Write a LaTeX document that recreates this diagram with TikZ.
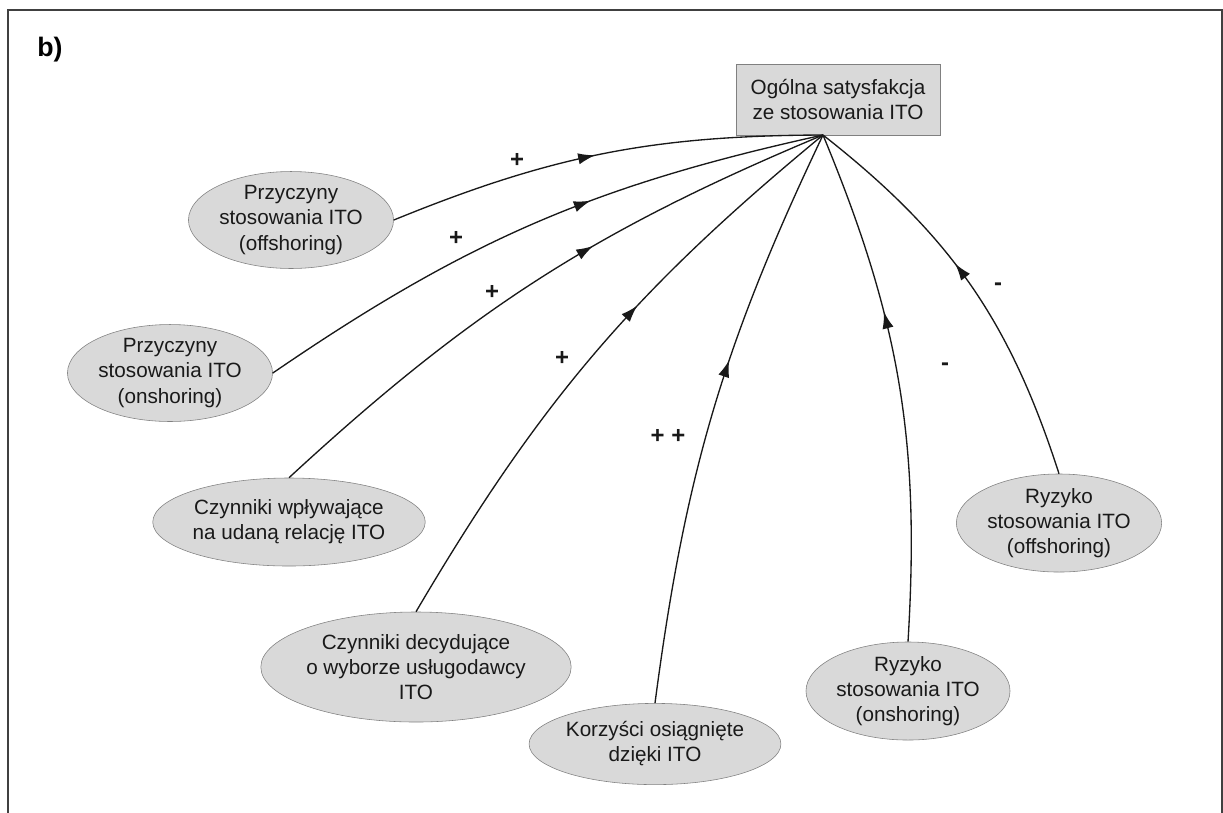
\documentclass[tikz,border=0pt]{standalone}
\usepackage{fontspec}
\setmainfont{Liberation Sans}
\usetikzlibrary{shapes.geometric, arrows.meta, decorations.markings}
\tikzset{
  factor_node/.style={ellipse, draw=gray, fill=gray!30, inner sep=0pt, align=center, text=black!90, font=\fontsize{14.7}{17.8}\selectfont},
  goal_box/.style={rectangle, draw=gray, fill=gray!30, inner sep=0pt, align=center, text=black!90, minimum width=5.1cm, minimum height=1.78cm, font=\fontsize{14.7}{17.8}\selectfont},
  link/.style={-, line width=0.95pt, black!90},
  mid_arrow/.style={postaction={decorate}, decoration={markings, mark=at position #1 with {\arrow{Latex[length=12pt,width=8pt]}}}},
  mid_arrow/.default=0.55,
  sign_label/.style={font=\fontsize{17}{20}\selectfont\bfseries, text=black!90},
  frame_style/.style={draw=black!75, line width=1.4pt}
}

\begin{document}
\begin{tikzpicture}[x=0.025cm, y=-0.025cm]
    \useasboundingbox (0,0) rectangle (1223,812);

    % 1. Frame and panel letter
    \draw[frame_style] (8,10) rectangle (1222,850);
    \node[font=\fontsize{19}{23}\selectfont\bfseries] (panel) at (50,50) {b)};

    % 2. Target box and the point where all links meet
    \node[goal_box] (sat) at (838,99.5) {Ogólna satysfakcja\\ze stosowania ITO};
    \coordinate (hub) at (823,135);

    % 3. Factors
    \node[factor_node, minimum width=5.125cm, minimum height=2.2cm] (cause_off) at (291,220) {Przyczyny\\stosowania ITO\\(offshoring)};
    \node[factor_node, minimum width=5.125cm, minimum height=2.3cm] (cause_on) at (170,373) {Przyczyny\\stosowania ITO\\(onshoring)};
    \node[factor_node, minimum width=5.2cm, minimum height=2.2cm] (success) at (289,522) {Czynniki wpływające\\na udaną relację ITO};
    \node[factor_node, minimum width=6.55cm, minimum height=2.75cm] (vendor) at (416,667) {Czynniki decydujące\\o wyborze usługodawcy\\ITO};
    \node[factor_node, minimum width=5.1cm, minimum height=2.03cm] (benefit) at (655,744) {Korzyści osiągnięte\\dzięki ITO};
    \node[factor_node, minimum width=5.1cm, minimum height=2.33cm] (risk_on) at (908,691) {Ryzyko\\stosowania ITO\\(onshoring)};
    \node[factor_node, minimum width=5.13cm, minimum height=2.22cm] (risk_off) at (1059,523) {Ryzyko\\stosowania ITO\\(offshoring)};

    % 4. Links towards the target
    \draw[link, mid_arrow=0.48] (cause_off.east) to[bend left=11] (hub);
    \draw[link, mid_arrow=0.6] (cause_on.east) to[bend left=11] (hub);
    \draw[link, mid_arrow=0.6] (success.north) to[bend left=10] (hub);
    \draw[link, mid_arrow=0.6] (vendor.north) to[bend left=10] (hub);
    \draw[link, mid_arrow=0.59] (benefit.north) to[bend left=9] (hub);
    \draw[link, mid_arrow=0.64] (risk_on.north) to[bend right=13] (hub);
    \draw[link, mid_arrow=0.56] (risk_off.north) to[bend right=17] (hub);

    % 5. Signs of the effects
    \node[sign_label] (sign_a) at (517,160) {+};
    \node[sign_label] (sign_b) at (456,238) {+};
    \node[sign_label] (sign_c) at (492,292) {+};
    \node[sign_label] (sign_d) at (562,358) {+};
    \node[sign_label] (sign_e) at (668,436) {+ +};
    \node[sign_label] (sign_f) at (945,367) {-};
    \node[sign_label] (sign_g) at (998,287) {-};
\end{tikzpicture}
\end{document}
